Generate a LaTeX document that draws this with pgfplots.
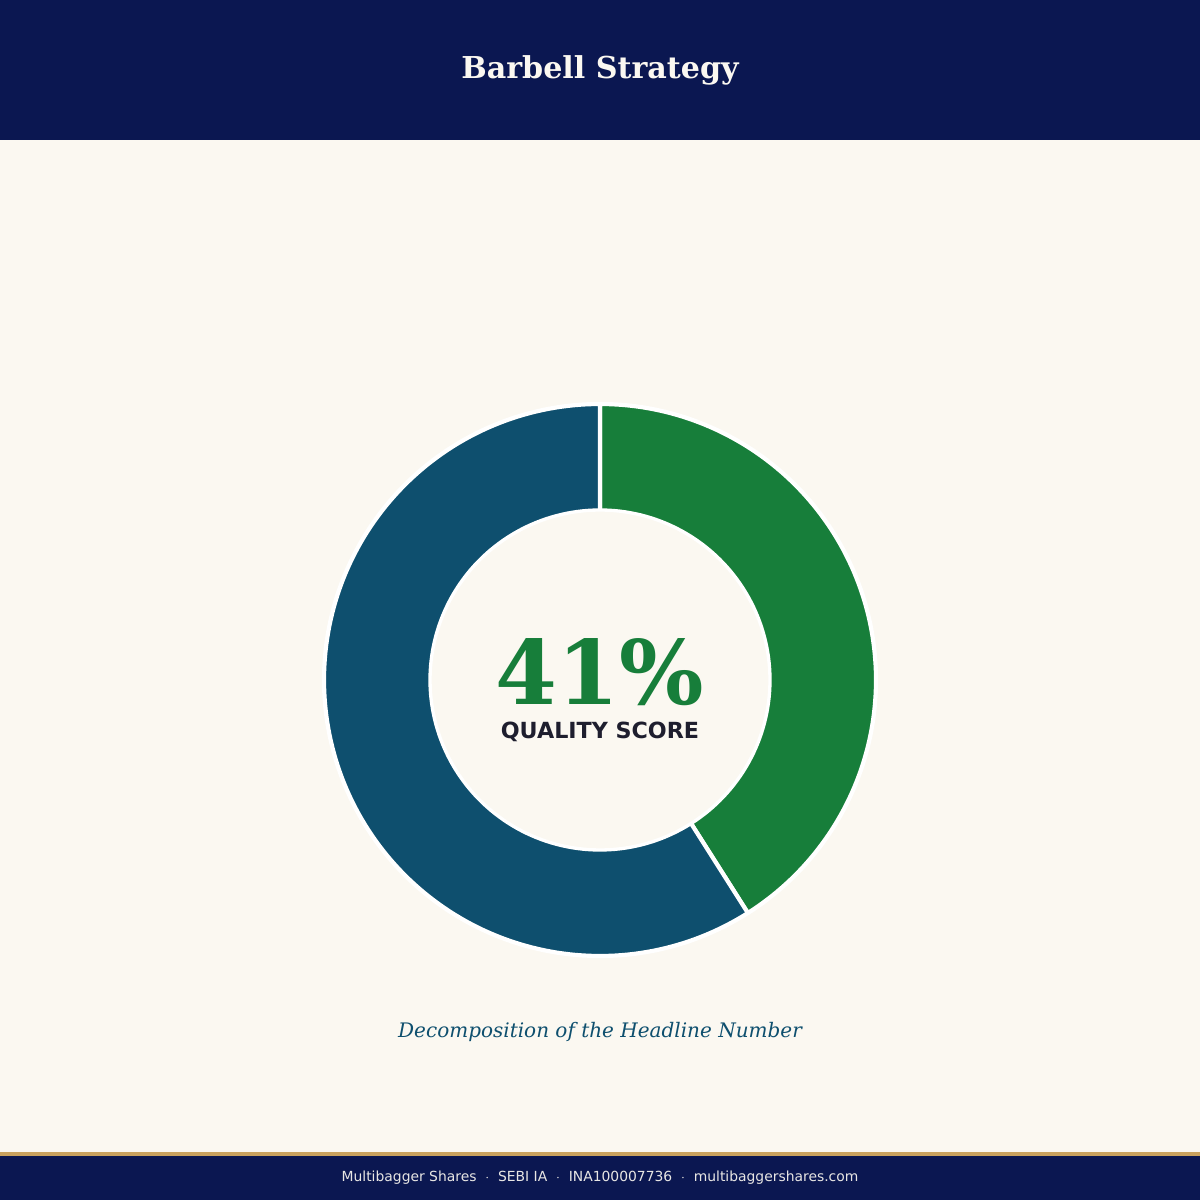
\documentclass[border=0pt]{standalone}
\usepackage{fontspec}
\usepackage{pgfplots}
\pgfplotsset{compat=1.18}
\newfontfamily\serifdv{DejaVu Serif}
\newfontfamily\sansdv{DejaVu Sans}
\definecolor{navy}{HTML}{0B1751}
\definecolor{cream}{HTML}{FBF8F1}
\definecolor{qgreen}{HTML}{177E3A}
\definecolor{qblue}{HTML}{0E4F6E}
\definecolor{gold}{HTML}{C9A25E}
\definecolor{darktext}{HTML}{1E1E2E}
% data: share of each segment (percent)
\def\valGreen{41}
\def\valBlue{59}
\begin{document}
\begin{tikzpicture}
\begin{axis}[
  at={(0,0)}, anchor=south west,
  width=864pt, height=864pt, scale only axis,
  xmin=0, xmax=1200, ymin=0, ymax=1200,
  hide axis, clip=false,
]
% background and bands
\fill[cream] (axis cs:0,0) rectangle (axis cs:1200,1200);
\fill[navy] (axis cs:0,1060) rectangle (axis cs:1200,1200);
\fill[navy] (axis cs:0,0) rectangle (axis cs:1200,44);
\fill[gold] (axis cs:0,44) rectangle (axis cs:1200,48);
% donut: green segment from top clockwise, blue the rest
\pgfmathsetmacro{\angEnd}{90-3.6*\valGreen}
\pgfmathsetmacro{\angEndB}{\angEnd-3.6*\valBlue}
\addplot[fill=qgreen, draw=white, line width=3pt, line join=round, domain=90:\angEnd, samples=120, variable=\t]
  ({600+276*cos(t)},{520+276*sin(t)}) -- (axis cs:600,520) -- cycle;
\addplot[fill=qblue, draw=white, line width=3pt, line join=round, domain=\angEnd:\angEndB, samples=160, variable=\t]
  ({600+276*cos(t)},{520+276*sin(t)}) -- (axis cs:600,520) -- cycle;
\addplot[fill=cream, draw=white, line width=2.4pt, domain=0:360, samples=200, variable=\t]
  ({600+170*cos(t)},{520+170*sin(t)}) -- cycle;
% texts
\node[inner sep=0pt, text=cream, font=\serifdv\bfseries\fontsize{21.7}{26}\selectfont] at (axis cs:600,1130) {Barbell Strategy};
\node[inner sep=0pt, text depth=0pt, anchor=base, text=qgreen, font=\serifdv\bfseries\fontsize{64}{70}\selectfont] at (axis cs:600,495) {41\%};
\node[inner sep=0pt, text=darktext, font=\sansdv\bfseries\fontsize{16}{19}\selectfont] at (axis cs:600,468) {QUALITY SCORE};
\node[inner sep=0pt, text=qblue, font=\serifdv\itshape\fontsize{14.4}{17}\selectfont] at (axis cs:600,168) {Decomposition of the Headline Number};
\node[inner sep=0pt, text=cream!92!navy, font=\sansdv\fontsize{10}{12}\selectfont] at (axis cs:600,22) {Multibagger Shares\ \ $\cdot$\ \ SEBI IA\ \ $\cdot$\ \ INA100007736\ \ $\cdot$\ \ multibaggershares.com};
\end{axis}
\end{tikzpicture}
\end{document}
